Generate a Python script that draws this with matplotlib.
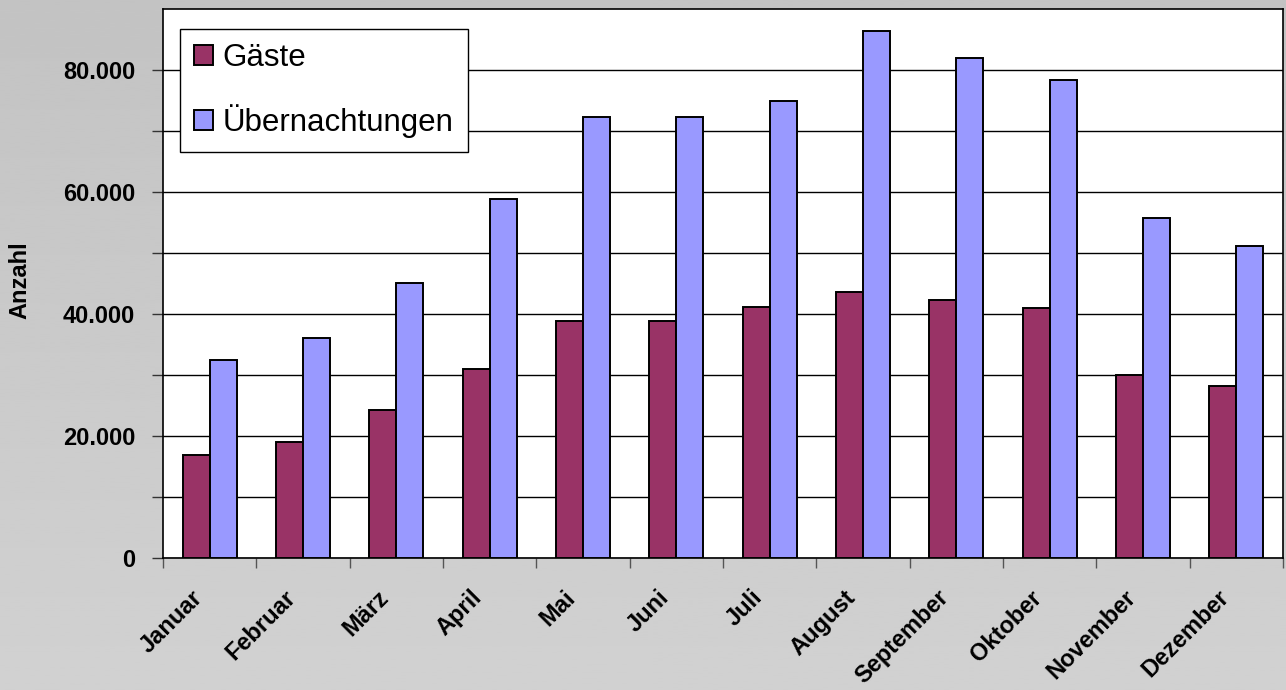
import numpy as np
import matplotlib
matplotlib.use('Agg')
import matplotlib.pyplot as plt
from matplotlib.ticker import FuncFormatter, MultipleLocator, FixedLocator
from matplotlib.transforms import ScaledTranslation

# Monthly values
monate = ['Januar', 'Februar', 'März', 'April', 'Mai', 'Juni',
          'Juli', 'August', 'September', 'Oktober', 'November', 'Dezember']
gaeste = [16900, 19000, 24300, 31000, 38900, 38900,
          41100, 43600, 42300, 41000, 30000, 28200]
uebernachtungen = [32500, 36100, 45100, 58900, 72300, 72300,
                   74900, 86400, 82000, 78400, 55700, 51100]

plt.rcParams['font.family'] = ['Liberation Sans', 'DejaVu Sans']

fig = plt.figure(figsize=(12.86, 6.90), dpi=100)

# grey gradient background
bg = fig.add_axes([0, 0, 1, 1], zorder=-10)
grad = np.linspace(0.765, 0.82, 256).reshape(-1, 1)
bg.imshow(grad, aspect='auto', cmap='gray', vmin=0, vmax=1, extent=[0, 1, 0, 1])
bg.axis('off')

ax = fig.add_axes([163 / 1286, 1 - 558 / 690, 1120 / 1286, 549 / 690])
ax.set_facecolor('white')

x = np.arange(len(monate))
w = 0.29
ax.bar(x - w / 2, gaeste, w, color='#993366', edgecolor='black', linewidth=1.4,
       label='Gäste', zorder=3)
ax.bar(x + w / 2, uebernachtungen, w, color='#9999FF', edgecolor='black', linewidth=1.4,
       label='Übernachtungen', zorder=3)

ax.set_xlim(-0.5, 11.5)
ax.set_ylim(0, 90000)

# y axis: labels every 20.000, gridlines/ticks every 10.000
ax.yaxis.set_major_locator(MultipleLocator(20000))
ax.yaxis.set_minor_locator(FixedLocator(np.arange(10000, 80001, 10000)))
ax.yaxis.set_major_formatter(FuncFormatter(lambda v, p: f'{int(v):,}'.replace(',', '.')))
ax.tick_params(axis='y', which='both', direction='out', length=8, width=1, color='#333333',
               pad=12, labelsize=17)
for lab in ax.get_yticklabels():
    lab.set_fontweight('bold')
ax.grid(axis='y', which='both', color='black', linewidth=1, zorder=0)
ax.set_axisbelow(True)

# x axis: ticks at category boundaries, labels at centers
ax.xaxis.set_minor_locator(FixedLocator(np.arange(-0.5, 12, 1)))
ax.set_xticks(x)
ax.set_xticklabels(monate, rotation=45, ha='right', va='center', rotation_mode='anchor',
                   fontsize=17, fontweight='bold')
ax.tick_params(axis='x', which='major', length=0, pad=26)
ax.tick_params(axis='x', which='minor', direction='out', length=7, width=1, color='#555555')
shift = ScaledTranslation(-11 / 100, 0, fig.dpi_scale_trans)
for lab in ax.get_xticklabels():
    lab.set_transform(lab.get_transform() + shift)

for s in ax.spines.values():
    s.set_color('black')
    s.set_linewidth(1.2)

fig.text(20 / 1286, 1 - 280 / 690, 'Anzahl', rotation=90, ha='center', va='center',
         fontsize=17, fontweight='bold')

leg = ax.legend(loc='upper left', bbox_to_anchor=(180 / 1286, 1 - 29 / 690),
                bbox_transform=fig.transFigure, borderaxespad=0, fontsize=22.5,
                frameon=True, fancybox=False, framealpha=1, edgecolor='black',
                handlelength=0.62, handleheight=0.62, handletextpad=0.3,
                labelspacing=1.0, borderpad=0.45)
leg.get_frame().set_linewidth(1)

fig.savefig('out.png', dpi=100, facecolor=fig.get_facecolor())
